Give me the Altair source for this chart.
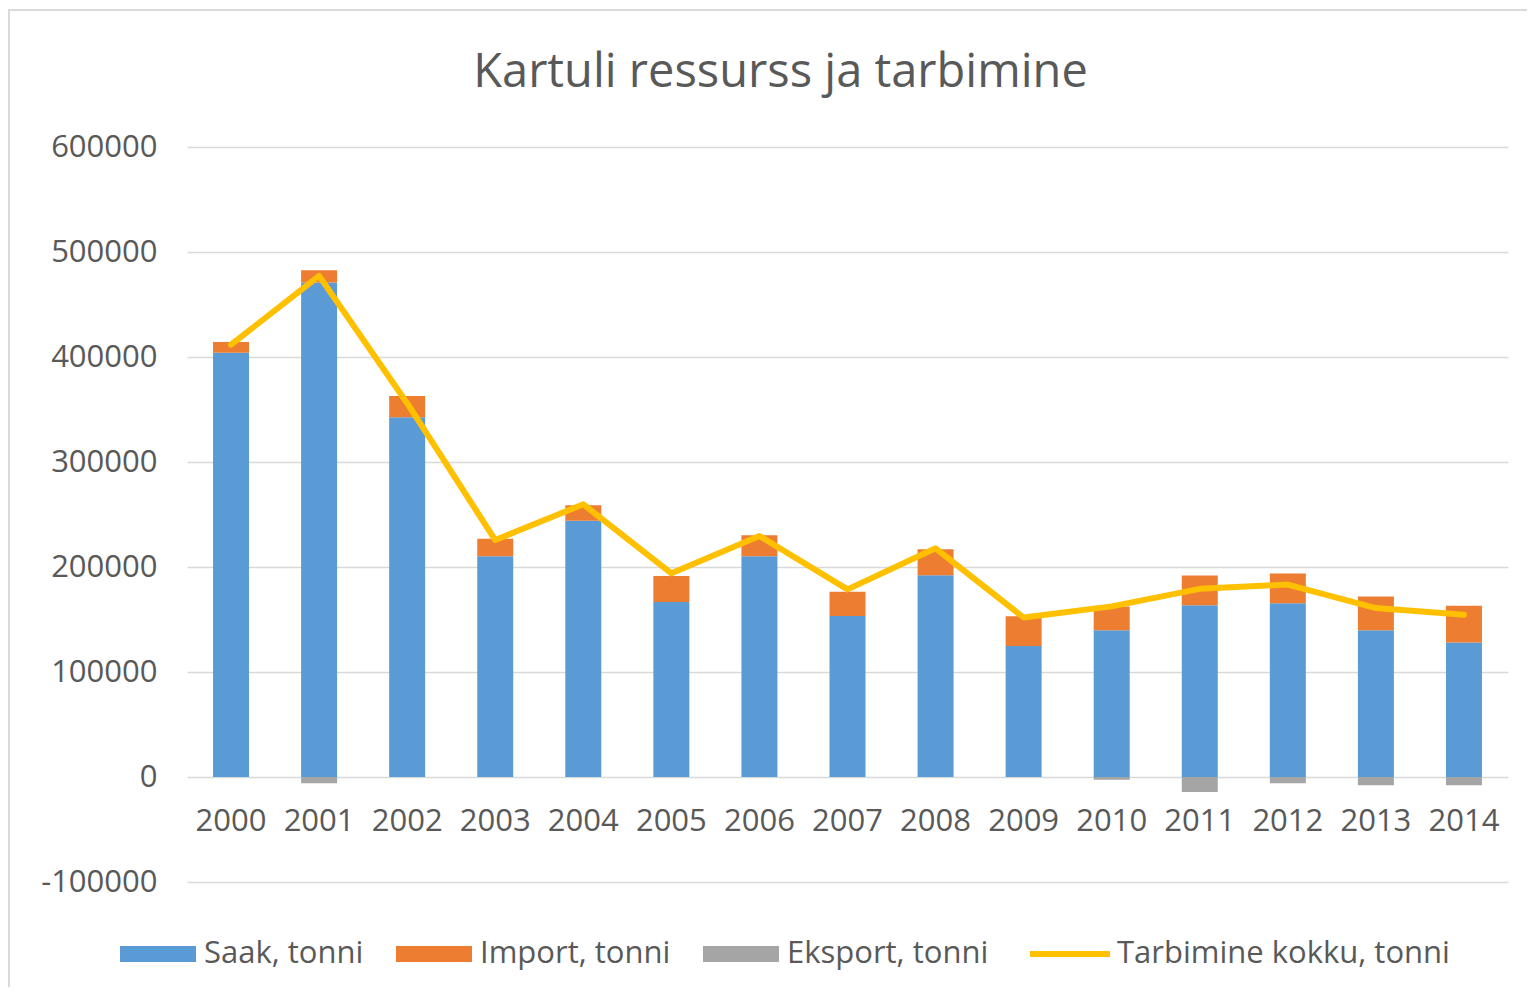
import altair as alt
import pandas as pd

years = [str(y) for y in range(2000, 2015)]
saak = [404000, 471000, 342600, 210200, 244100, 166700, 210200, 153300,
        192100, 124700, 139700, 163500, 165400, 139700, 128000]
import_ = [10200, 11600, 20200, 16800, 14600, 24700, 20000, 23200,
           24700, 28500, 22800, 28500, 28500, 32100, 35100]
eksport = [0, -6000, 0, 0, 0, 0, 0, 0, 0, 0, -2500, -14300, -6000, -7900, -7900]
tarbimine = [411700, 477300, 356000, 225700, 259700, 194000, 229500, 178700,
             217800, 151900, 162500, 179200, 183300, 160900, 154500]

bar_series = ["Saak, tonni", "Import, tonni", "Eksport, tonni"]
bar_colors = ["#5B9BD5", "#ED7D31", "#A5A5A5"]
line_series = "Tarbimine kokku, tonni"
line_color = "#FFC000"

rows = []
for i, y in enumerate(years):
    for k, (s, vals) in enumerate(zip(bar_series, [saak, import_, eksport])):
        rows.append({"year": y, "series": s, "value": vals[i], "ord": k})
bars_df = pd.DataFrame(rows)
line_df = pd.DataFrame({"year": years, "total": tarbimine, "series": [line_series] * len(years)})

FONT = "Open Sans"
TXT = "#595959"

x_enc = alt.X("year:O", title=None,
              scale=alt.Scale(paddingInner=0, paddingOuter=0),
              axis=alt.Axis(labelAngle=0, domain=False, ticks=False, grid=False,
                            offset=-105, labelPadding=29, labelFontSize=31,
                            labelColor=TXT, labelFont=FONT))
y_scale = alt.Scale(domain=[-100000, 600000], nice=False)

bars = alt.Chart(bars_df).mark_bar(size=36).encode(
    x=x_enc,
    y=alt.Y("value:Q", stack="zero", scale=y_scale, title=None,
            axis=alt.Axis(values=list(range(-100000, 600001, 100000)),
                          labelExpr="datum.value < 0 ? '-' + format(-datum.value, 'd') : format(datum.value, 'd')",
                          grid=True, gridColor="#D9D9D9", gridWidth=1.5,
                          domain=False, ticks=False, labelFontSize=31,
                          labelColor=TXT, labelFont=FONT, labelPadding=30)),
    fill=alt.Fill("series:N",
                  scale=alt.Scale(domain=bar_series, range=bar_colors),
                  legend=alt.Legend(orient="none", legendX=-67, legendY=769,
                                    direction="horizontal", columns=3, title=None,
                                    symbolType="M-1,-0.21L1,-0.21L1,0.21L-1,0.21Z",
                                    symbolSize=5776, symbolStrokeWidth=0,
                                    symbolOpacity=1, labelLimit=0,
                                    labelFontSize=31, labelColor=TXT, labelFont=FONT,
                                    labelOffset=8, columnPadding=32)),
    order=alt.Order("ord:Q"),
)

line = alt.Chart(line_df).mark_line(strokeWidth=6, strokeCap="round", strokeJoin="round").encode(
    x=alt.X("year:O"),
    y=alt.Y("total:Q", scale=y_scale),
    stroke=alt.Stroke("series:N",
                      scale=alt.Scale(domain=[line_series], range=[line_color]),
                      legend=alt.Legend(orient="none", legendX=840, legendY=764,
                                        title=None, symbolType="stroke",
                                        symbolSize=6400, symbolStrokeWidth=6,
                                        labelFontSize=31, labelColor=TXT, labelLimit=0,
                                        labelFont=FONT, labelOffset=4)),
)

# decorative chart-area frame (style only)
frame = alt.Chart(pd.DataFrame({"f": [0]})).mark_rect(
    fill=None, stroke="#D9D9D9", strokeWidth=2
).encode(x=alt.value(-178), x2=alt.value(1346), y=alt.value(-137), y2=alt.value(853))

chart = alt.layer(frame, bars, line).properties(
    width=1321, height=735,
    title=alt.Title("Kartuli ressurss ja tarbimine", fontSize=47, font=FONT,
                    color=TXT, fontWeight="normal", anchor="middle", offset=-88, dx=-67),
    autosize=alt.AutoSizeParams(type="none"),
    padding={"left": 179, "top": 139, "right": 19, "bottom": 105},
).configure_view(stroke=None)

chart.save("out.html", embed_options={"renderer": "svg", "actions": False})
